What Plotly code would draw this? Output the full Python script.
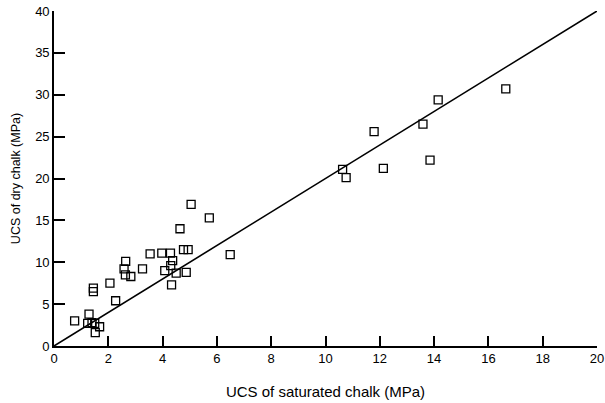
import plotly.graph_objects as go

# UCS of saturated chalk (MPa)
sat_ucs = [0.76, 1.29, 1.24, 1.40, 1.50, 1.52, 1.68, 1.45, 1.45,
           2.06, 2.27, 2.64, 2.58, 2.63, 2.83, 3.26, 3.54, 3.97,
           4.29, 4.37, 4.30, 4.08, 4.50, 4.87, 4.33, 4.77, 4.94,
           4.64, 5.05, 5.72, 6.49,
           10.63, 10.76, 11.79, 12.13, 13.59, 13.85, 14.15, 16.64]
# UCS of dry chalk (MPa)
dry_ucs = [3.0, 3.8, 2.7, 2.8, 2.7, 1.6, 2.3, 6.9, 6.5,
           7.5, 5.4, 10.1, 9.2, 8.5, 8.3, 9.2, 11.0, 11.1,
           11.1, 10.2, 9.6, 9.0, 8.7, 8.8, 7.3, 11.5, 11.5,
           14.0, 16.9, 15.3, 10.9,
           21.1, 20.1, 25.6, 21.2, 26.5, 22.2, 29.4, 30.7]

# Reference line: dry = 2 x saturated
line_x = [0, 20]
line_y = [0, 40]

x_ticks = [0, 2, 4, 6, 8, 10, 12, 14, 16, 18, 20]
y_ticks = [0, 5, 10, 15, 20, 25, 30, 35, 40]

FONT = "Liberation Sans, Arial, Helvetica, sans-serif"

fig = go.Figure()
fig.add_trace(go.Scatter(
    x=line_x, y=line_y, mode="lines",
    line=dict(color="black", width=1.6),
    hoverinfo="skip", showlegend=False))
fig.add_trace(go.Scatter(
    x=sat_ucs, y=dry_ucs, mode="markers",
    marker=dict(symbol="square-open", size=8, color="black",
                line=dict(width=1.3, color="black")),
    showlegend=False))

fig.update_layout(
    width=605, height=403,
    margin=dict(l=54, r=8, t=11, b=57),
    paper_bgcolor="white", plot_bgcolor="white",
    font=dict(family=FONT, size=13, color="black"),
)
fig.update_xaxes(
    range=[0, 20], tickvals=x_ticks, ticktext=[str(v) for v in x_ticks],
    ticks="inside", ticklen=10, tickwidth=1.6, tickcolor="black",
    showline=True, linecolor="black", linewidth=1.6,
    showgrid=False, zeroline=False, automargin=False,
    tickfont=dict(family=FONT, size=13, color="black"),
    title=dict(text="UCS of saturated chalk (MPa)",
               font=dict(family=FONT, size=15, color="black"),
               standoff=21),
)
fig.update_yaxes(
    range=[0, 40], tickvals=y_ticks, ticktext=[str(v) for v in y_ticks],
    ticks="inside", ticklen=11, tickwidth=1.6, tickcolor="black",
    showline=True, linecolor="black", linewidth=1.6,
    showgrid=False, zeroline=False, automargin=False,
    tickfont=dict(family=FONT, size=13, color="black"),
    title=dict(text="UCS of dry chalk (MPa)",
               font=dict(family=FONT, size=12.5, color="black"),
               standoff=12),
)

# remove the default page margin so the figure sits at the window origin
fig.write_html("out.html",
               config={"displayModeBar": False},
               post_script="document.body.style.margin='0';")
